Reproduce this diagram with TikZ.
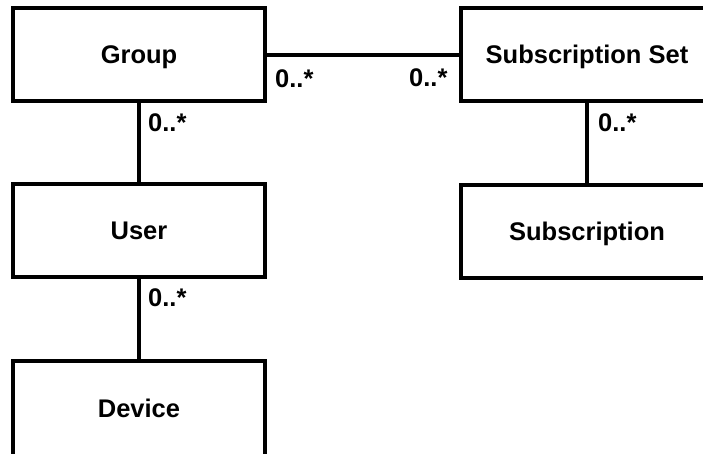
\documentclass[tikz,border=0pt]{standalone}
\usepackage{fontspec}
\setmainfont{Liberation Sans}
\begin{document}
\begin{tikzpicture}[x=1pt,y=-1pt,
  entity/.style={draw, line width=4pt, fill=white, minimum width=252pt, minimum height=93pt,
    inner sep=0pt, text height=18.4pt, text depth=0pt,
    font=\fontsize{25.5}{30}\selectfont\bfseries},
  mult/.style={anchor=base west, inner sep=0pt, font=\fontsize{25.5}{30}\selectfont\bfseries},
  assoc/.style={line width=4pt}]
  \clip (0,0) rectangle (703,453);
  \fill[white] (0,0) rectangle (703,453);

  % classes
  \node[entity] (group)  at (139,54.5)  {Group};
  \node[entity] (user)   at (139,230.5) {User};
  \node[entity, minimum height=100pt, text height=13.4pt] (device) at (139,411) {Device};
  \node[entity] (subset) at (587,54.5)  {Subscription Set};
  \node[entity] (sub)    at (587,231)   {Subscription};

  % associations
  \draw[assoc] (group.east) -- (subset.west);
  \draw[assoc] (group.south) -- (user.north);
  \draw[assoc] (user.south) -- (device.north);
  \draw[assoc] (subset.south) -- (sub.north);

  % multiplicities
  \node[mult] (m1) at (275,87)  {0..*};
  \node[mult] (m2) at (409,86)  {0..*};
  \node[mult] (m3) at (148,131) {0..*};
  \node[mult] (m4) at (148,306) {0..*};
  \node[mult] (m5) at (598,131) {0..*};
\end{tikzpicture}
\end{document}
